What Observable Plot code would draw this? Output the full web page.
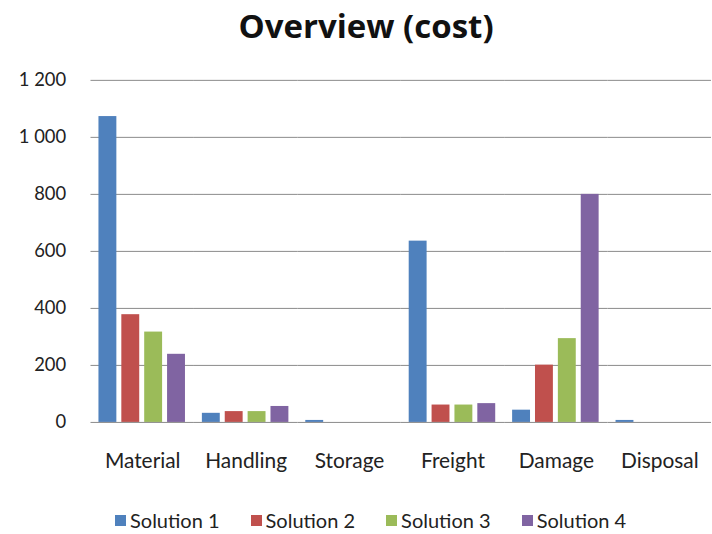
<!DOCTYPE html>
<html>
<head>
<meta charset="utf-8">
<script src="https://cdn.jsdelivr.net/npm/d3@7"></script>
<script src="https://cdn.jsdelivr.net/npm/@observablehq/plot@0.6"></script>
<style>
  html, body { margin: 0; padding: 0; background: #fff; overflow: hidden; width: 712px; height: 534px; }
  body { position: relative; font-family: Lato, "Open Sans", sans-serif; color: #222; }
  #title { position: absolute; left: 0; width: 732px; top: 5px; text-align: center; font-family: "Open Sans", Lato, sans-serif; font-weight: bold; font-size: 33px; line-height: 42px; color: #111; }
  #chart { position: absolute; left: 0; top: 56px; }
  #legend { position: absolute; left: 115px; top: 508px; display: flex; align-items: center; font-size: 20px; line-height: 24px; }
  .item { display: flex; align-items: center; margin-right: 31px; }
  .sw { width: 11px; height: 11px; margin-right: 4px; }
  #chart svg g[aria-label="fx-axis tick label"] { font-size: 21px; }
</style>
</head>
<body>
<div id="title">Overview (cost)</div>
<div id="chart"></div>
<div id="legend"></div>
<script>
const categories = ["Material", "Handling", "Storage", "Freight", "Damage", "Disposal"];
const seriesNames = ["Solution 1", "Solution 2", "Solution 3", "Solution 4"];
const solution1 = [1073, 32, 7, 636, 43, 7];
const solution2 = [378, 38, 0, 61, 201, 0];
const solution3 = [317, 38, 0, 61, 294, 0];
const solution4 = [239, 56, 0, 66, 800, 0];
const seriesColors = ["#4F81BD", "#C0504D", "#9BBB59", "#8064A2"];
const yTicks = [0, 200, 400, 600, 800, 1000, 1200];
const yTickLabels = ["0", "200", "400", "600", "800", "1 000", "1 200"];

const seriesValues = [solution1, solution2, solution3, solution4];
const data = [];
categories.forEach((c, i) => {
  seriesNames.forEach((s, j) => {
    data.push({category: c, series: s, value: seriesValues[j][i]});
  });
});

const plot = Plot.plot({
  width: 716,
  height: 434,
  marginTop: 24,
  marginBottom: 66,
  marginLeft: 90,
  marginRight: 0,
  style: {fontFamily: "Lato, 'Open Sans', sans-serif", fontSize: "18.5px", color: "#222", background: "#fff"},
  fx: {domain: categories, padding: 0, tickSize: 0, tickPadding: 31, label: null},
  x: {domain: seriesNames, paddingInner: 0.2, paddingOuter: 0.33, axis: null},
  y: {domain: [0, 1200], ticks: yTicks, tickFormat: d => yTickLabels[yTicks.indexOf(d)], tickSize: 0, tickPadding: 25, label: null},
  color: {domain: seriesNames, range: seriesColors},
  marks: [
    Plot.ruleY(yTicks.filter(d => d > 0), {stroke: "#8a8a8a", strokeWidth: 1}),
    Plot.barY(data, {fx: "category", x: "series", y: "value", fill: "series"}),
    Plot.ruleY([0], {stroke: "#8a8a8a", strokeWidth: 1})
  ]
});
document.getElementById("chart").appendChild(plot);

const colorScale = plot.scale("color");
const legend = document.getElementById("legend");
seriesNames.forEach((s, j) => {
  const item = document.createElement("div");
  item.className = "item";
  const sw = document.createElement("span");
  sw.className = "sw";
  sw.style.background = colorScale.range[j];
  const t = document.createElement("span");
  t.textContent = s;
  item.appendChild(sw);
  item.appendChild(t);
  legend.appendChild(item);
});
</script>
</body>
</html>
